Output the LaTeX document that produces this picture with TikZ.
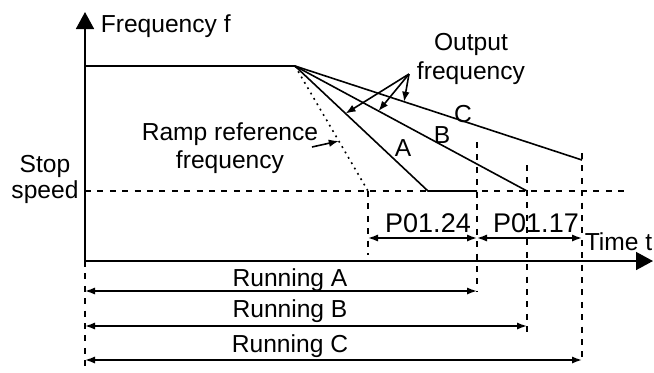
\documentclass[tikz,border=0pt]{standalone}
\usepackage{fontspec}
\setmainfont{Liberation Sans}
\usetikzlibrary{arrows.meta, calc}

\begin{document}
\begin{tikzpicture}[
    x=0.5pt, y=-0.5pt,
    line width=0.8pt,
    every node/.style={font=\fontsize{12.3}{14}\selectfont, inner sep=0pt},
    axis/.style={-{Triangle[length=8.5pt,width=9pt]}},
    guide/.style={dash pattern=on 3pt off 3.2pt},
    ramp/.style={dash pattern=on 0.9pt off 2.2pt},
    span/.style={{Latex[length=5pt,width=3.6pt]}-{Latex[length=5pt,width=3.6pt]}},
    pointer/.style={-{Latex[length=5pt,width=3.8pt]}},
    param/.style={font=\fontsize{13.5}{16}\selectfont}
]
\useasboundingbox (0,0) rectangle (654,372);

\coordinate (O) at (85,261);
\coordinate (ftop) at (85,12);
\coordinate (tend) at (653,261);
\coordinate (fmax) at (85,66);
\coordinate (knee) at (295,66);
\coordinate (stopL) at (85,191);
\coordinate (stopR) at (625,191);
\coordinate (rampend) at (368,191);
\coordinate (Aflat) at (428,191);
\coordinate (Aend) at (477,191);
\coordinate (Bend) at (527,191);
\coordinate (Cend) at (582,160);
\coordinate (outsrc) at (409,74);
\coordinate (rampsrc) at (312,147);

\draw [axis] (O) -- (ftop);
\draw [axis] (O) -- (tend);
\draw [guide] (stopL) -- (stopR);
\draw (fmax) -- (knee);
\draw [ramp] (knee) -- (rampend);
\draw (knee) -- (Aflat) -- (Aend);
\draw (knee) -- (Bend);
\draw (knee) -- (Cend);

\draw [guide] (rampend) -- (368,255);
\draw [guide] (477,142) -- (477,291);
\draw [guide] (527,165) -- (527,333);
\draw [guide] (582,153) -- (582,360);
\draw [guide] (O) -- (85,372);

\draw [span] (368,238) -- (477,238);
\draw [span] (477,238) -- (582,238);
\draw [span] (85,291) -- (477,291);
\draw [span] (85,326) -- (527,326);
\draw [span] (85,360) -- (582,360);

\draw [pointer] (outsrc) -- ($(knee)!0.38!(Aflat)$);
\draw [pointer] (outsrc) -- ($(knee)!0.36!(Bend)$);
\draw [pointer] (outsrc) -- ($(knee)!0.38!(Cend)$);
\draw [pointer] (rampsrc) -- ($(knee)!0.6!(rampend)$);

\node (flabel) [anchor=base west] at (100,32) {Frequency f};
\node (tlabel) [anchor=base east] at (653,250) {Time t};
\node (stop1) [anchor=base] at (45,172) {Stop};
\node (stop2) [anchor=base] at (45,198) {speed};
\node (ramp1) [anchor=base] at (230,140) {Ramp reference};
\node (ramp2) [anchor=base] at (230,168) {frequency};
\node (out1) [anchor=base] at (471,50) {Output};
\node (out2) [anchor=base] at (471,79) {frequency};
\node (labA) [anchor=base] at (403,156) {A};
\node (labB) [anchor=base] at (442,143) {B};
\node (labC) [anchor=base] at (463,122) {C};
\node (p124) [param, anchor=base] at (428,232) {P01.24};
\node (p117) [param, anchor=base] at (536,232) {P01.17};
\node (runA) [anchor=base] at (290,286) {Running A};
\node (runB) [anchor=base] at (290,317) {Running B};
\node (runC) [anchor=base] at (290,352) {Running C};
\end{tikzpicture}
\end{document}
